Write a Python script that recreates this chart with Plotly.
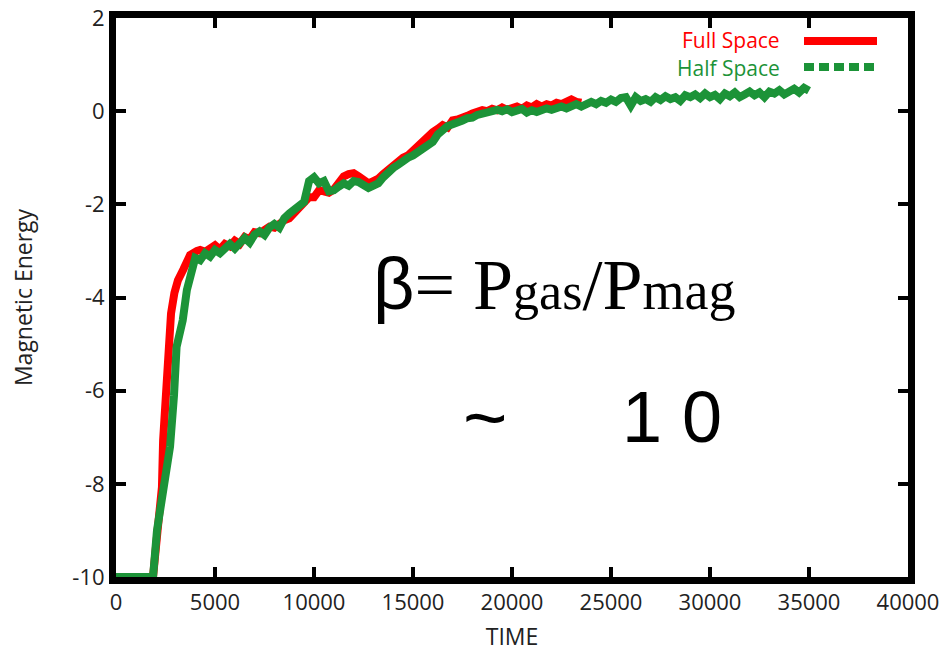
import plotly.graph_objects as go

# ---- data -------------------------------------------------------------
full_t = [0, 500, 1000, 1500, 1870, 2100, 2320, 2380, 2500, 2630, 2780, 2950,
          3130, 3400, 3740, 4090,
          4250, 4500, 4750, 5000, 5250, 5500, 5750, 6000, 6250, 6500, 6750,
          7000, 7250, 7500, 7750, 8000, 8250, 8500, 8750, 9000, 9250, 9500,
          9750, 10000, 10250, 10500, 10750, 11000, 11250, 11500, 11750, 12000,
          12250, 12500, 12750, 13000, 13250, 13500, 13750, 14000, 14250, 14500,
          14750, 15000, 15250, 15500, 15750, 16000, 16250, 16500, 16750, 17000,
          17250, 17500, 17750, 18000, 18250, 18500, 18750, 19000, 19250, 19500,
          19750, 20000, 20250, 20500, 20750, 21000, 21250, 21500, 21750, 22000,
          22250, 22500, 22750, 23000, 23250, 23500]
full_e = [-10, -10, -10, -10, -10, -9.0, -8.07, -7.06, -6.2, -5.4, -4.34, -3.9,
          -3.63, -3.4, -3.09, -3.0,
          -2.98, -3.02, -2.95, -2.88, -2.97, -2.85, -2.9, -2.78, -2.85, -2.7, -2.75,
          -2.6, -2.62, -2.55, -2.48, -2.5, -2.4, -2.34, -2.3, -2.2, -2.1, -2.0,
          -1.85, -1.85, -1.7, -1.72, -1.75, -1.68, -1.5, -1.4, -1.35, -1.33,
          -1.4, -1.48, -1.55, -1.5, -1.45, -1.35, -1.25, -1.2, -1.1, -1.0,
          -0.95, -0.85, -0.75, -0.6, -0.5, -0.45, -0.38, -0.3, -0.35, -0.2,
          -0.18, -0.12, -0.1, -0.05, -0.02, 0.02, 0.0, 0.05, 0.02, 0.08,
          0.03, 0.06, 0.1, 0.05, 0.12, 0.08, 0.15, 0.1, 0.15, 0.12,
          0.18, 0.15, 0.2, 0.25, 0.2, 0.18]

half_t = [0, 500, 1000, 1500, 1870, 2070, 2300, 2500, 2730, 2930, 3060, 3200,
          3370, 3580, 3830, 4000,
          4250, 4500, 4750, 5000, 5250, 5500, 5750, 6000, 6250, 6500, 6750,
          7000, 7250, 7500, 7750, 8000, 8250, 8500, 8750, 9000, 9250, 9500,
          9750, 10000, 10250, 10500, 10750, 11000, 11250, 11500, 11750, 12000,
          12250, 12500, 12750, 13000, 13250, 13500, 13750, 14000, 14250, 14500,
          14750, 15000, 15250, 15500, 15750, 16000, 16250, 16500, 16750, 17000,
          17250, 17500, 17750, 18000, 18250, 18500, 18750, 19000, 19250, 19500,
          19750, 20000, 20250, 20500, 20750, 21000, 21250, 21500, 21750, 22000,
          22250, 22500, 22750, 23000, 23250, 23500, 23750, 24000, 24250, 24500,
          24750, 25000, 25250, 25500, 25750, 26000, 26250, 26500, 26750, 27000,
          27250, 27500, 27750, 28000, 28250, 28500, 28750, 29000, 29250, 29500,
          29750, 30000, 30250, 30500, 30750, 31000, 31250, 31500, 31750, 32000,
          32250, 32500, 32750, 33000, 33250, 33500, 33750, 34000, 34250, 34500,
          34750, 35000]
half_e = [-10, -10, -10, -10, -10, -9.0, -8.3, -7.8, -7.2, -6.1, -5.06, -4.8,
          -4.49, -3.84, -3.35, -3.15,
          -3.2, -3.05, -3.12, -2.98, -3.05, -2.92, -2.85, -2.95, -2.8, -2.72, -2.82,
          -2.65, -2.58, -2.66, -2.5, -2.42, -2.5, -2.3, -2.2, -2.12, -2.05, -1.95,
          -1.5, -1.42, -1.55, -1.5, -1.72, -1.7, -1.62, -1.55, -1.6, -1.5,
          -1.52, -1.58, -1.65, -1.6, -1.55, -1.42, -1.3, -1.22, -1.15, -1.05,
          -1.0, -0.95, -0.88, -0.8, -0.72, -0.66, -0.5, -0.38, -0.32, -0.28,
          -0.22, -0.2, -0.15, -0.14, -0.08, -0.05, -0.04, 0.0, 0.03, 0.0,
          0.04, -0.02, 0.02, 0.05, -0.03, 0.02, -0.02, 0.04, 0.06, 0.03,
          0.08, 0.1, 0.06, 0.12, 0.15, 0.1, 0.17, 0.2, 0.15, 0.22,
          0.18, 0.25, 0.2, 0.28, 0.3, 0.12, 0.3, 0.22, 0.26, 0.2,
          0.3, 0.24, 0.32, 0.26, 0.3, 0.22, 0.34, 0.3, 0.36, 0.28,
          0.38, 0.3, 0.35, 0.26, 0.38, 0.32, 0.4, 0.3, 0.36, 0.42,
          0.34, 0.4, 0.3, 0.42, 0.38, 0.45, 0.36, 0.42, 0.48, 0.4,
          0.5, 0.44]

x_ticks = [0, 5000, 10000, 15000, 20000, 25000, 30000, 35000, 40000]
y_ticks = [-10, -8, -6, -4, -2, 0, 2]

RED = "#ff0000"
GREEN = "#1c9338"

W, H = 942, 655
ML, MR, MT, MB = 116, 34, 18, 78


def px(x):
    return (x - ML) / (W - ML - MR)


def py(y):
    return (H - MB - y) / (H - MT - MB)


fig = go.Figure()
fig.add_trace(go.Scatter(x=full_t, y=full_e, mode="lines", name="Full Space",
                         line=dict(color=RED, width=8), showlegend=False))
fig.add_trace(go.Scatter(x=half_t, y=half_e, mode="lines", name="Half Space",
                         line=dict(color=GREEN, width=8), showlegend=False))

axis_common = dict(showline=True, linewidth=7, linecolor="black", mirror="ticks",
                   ticks="inside", ticklen=10, tickwidth=4, tickcolor="black",
                   showgrid=False, zeroline=False, automargin=False,
                   tickfont=dict(family="Open Sans", size=22, color="#222"))

fig.update_xaxes(range=[0, 40000], tickvals=x_ticks,
                 ticktext=[str(v) for v in x_ticks],
                 title=dict(text="TIME", font=dict(family="Open Sans", size=23, color="#222"),
                            standoff=16),
                 **axis_common)
fig.update_yaxes(range=[-10, 2], tickvals=y_ticks,
                 ticktext=[str(v) for v in y_ticks],
                 title=dict(text="Magnetic Energy", font=dict(family="Open Sans", size=23, color="#222"),
                            standoff=36),
                 **axis_common)

# legend drawn as right-aligned labels with line samples to their right
fig.add_annotation(xref="paper", yref="paper", x=px(782), y=py(40), text="Full Space",
                   showarrow=False, xanchor="right", yanchor="middle",
                   font=dict(family="Open Sans", size=21, color=RED))
fig.add_annotation(xref="paper", yref="paper", x=px(782), y=py(68), text="Half Space",
                   showarrow=False, xanchor="right", yanchor="middle",
                   font=dict(family="Open Sans", size=21, color=GREEN))
fig.add_shape(type="line", xref="paper", yref="paper", x0=px(804), x1=px(877),
              y0=py(41), y1=py(41), line=dict(color=RED, width=8))
fig.add_shape(type="line", xref="paper", yref="paper", x0=px(804), x1=px(877),
              y0=py(67), y1=py(67), line=dict(color=GREEN, width=8, dash="10px,5px"))

# plasma beta text
fig.add_annotation(xref="paper", yref="paper", x=px(371), y=py(284),
                   text='<span style="font-family:Liberation Sans">β</span>= P'
                        '<span style="font-size:52px">gas</span>/P'
                        '<span style="font-size:54px">mag</span>',
                   showarrow=False, xanchor="left", yanchor="middle",
                   font=dict(family="Liberation Serif", size=72, color="black"))
fig.add_annotation(xref="paper", yref="paper", x=px(485), y=py(417), text="~",
                   showarrow=False, xanchor="center", yanchor="middle",
                   font=dict(family="Liberation Sans", size=76, color="black"))
fig.add_annotation(xref="paper", yref="paper", x=px(672), y=py(417), text="1 0",
                   showarrow=False, xanchor="center", yanchor="middle",
                   font=dict(family="Liberation Sans", size=72, color="black"))

fig.update_layout(width=W, height=H, margin=dict(l=ML, r=MR, t=MT, b=MB),
                  paper_bgcolor="white", plot_bgcolor="white", showlegend=False)

fig.write_html("out.html")
